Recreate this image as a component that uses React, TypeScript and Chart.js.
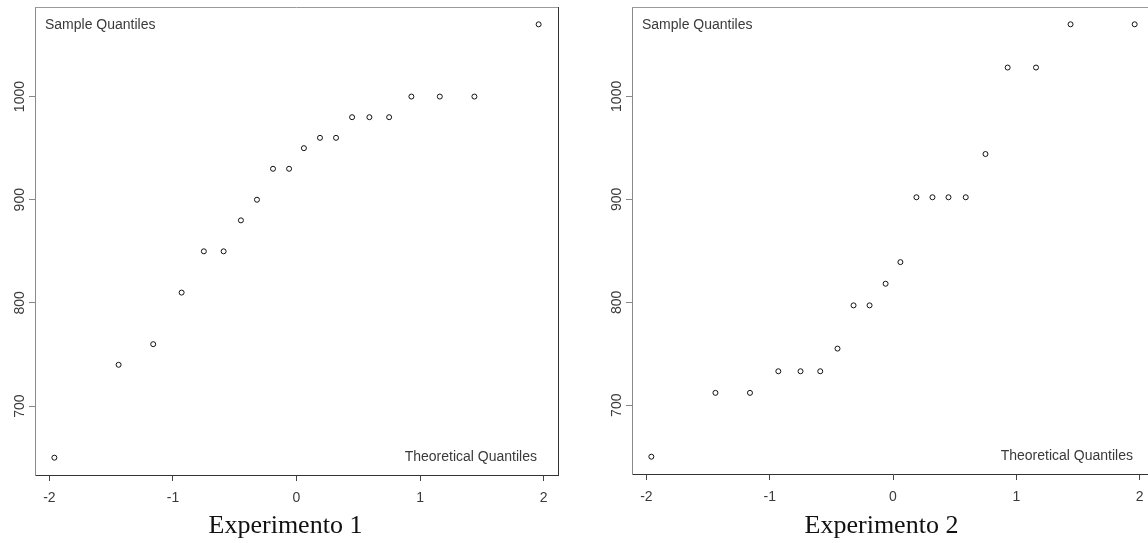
import React, { useEffect, useRef } from "react";
import { Chart, registerables } from "chart.js";

Chart.register(...registerables);

// Theoretical normal quantiles (x) shared by both panels
const THEORETICAL = [-1.96, -1.44, -1.16, -0.93, -0.75, -0.59, -0.45, -0.32, -0.19, -0.06,
  0.06, 0.19, 0.32, 0.45, 0.59, 0.75, 0.93, 1.16, 1.44, 1.96];
// Sample quantiles
const EXP1 = [650, 740, 760, 810, 850, 850, 880, 900, 930, 930,
  950, 960, 960, 980, 980, 980, 1000, 1000, 1000, 1070];
const EXP2 = [650, 712, 712, 733, 733, 733, 755, 797, 797, 818,
  839, 902, 902, 902, 902, 944, 1028, 1028, 1070, 1070];

const X_TICKS = [-2, -1, 0, 1, 2];
const Y_TICKS = [700, 800, 900, 1000];
const CAPTIONS = ["Experimento 1", "Experimento 2"];
const Y_LABEL = "Sample Quantiles";
const X_LABEL = "Theoretical Quantiles";

const X_MIN = -2.1168, X_MAX = 2.1168;
const Y_MIN = 633.2, Y_MAX = 1086.8;

const SANS = "'Liberation Sans', Arial, sans-serif";

const framePlugin = {
  id: "frameAndLabels",
  afterDraw(chart: any) {
    const { ctx, chartArea: a } = chart;
    ctx.save();
    ctx.lineWidth = 1;
    ctx.strokeStyle = "#9a9a9a";
    ctx.beginPath();
    ctx.moveTo(a.left, Math.round(a.top) + 0.5);
    ctx.lineTo(a.right, Math.round(a.top) + 0.5);
    ctx.stroke();
    ctx.strokeStyle = "#333";
    ctx.beginPath();
    ctx.moveTo(Math.round(a.right) + 0.5, a.top);
    ctx.lineTo(Math.round(a.right) + 0.5, a.bottom);
    ctx.stroke();
    ctx.fillStyle = "#3a3a3a";
    ctx.font = `14px ${SANS}`;
    ctx.textBaseline = "alphabetic";
    ctx.textAlign = "left";
    ctx.fillText(Y_LABEL, a.left + 10, a.top + 22);
    ctx.textAlign = "right";
    ctx.fillText(X_LABEL, a.right - 21, a.bottom - 14);
    ctx.restore();
  },
};

function makeConfig(values: number[], padLeft: number, padRight: number, padBottom: number): any {
  return {
    type: "scatter",
    data: {
      datasets: [
        {
          data: THEORETICAL.map((x, i) => ({ x, y: values[i] })),
          pointStyle: "circle",
          pointRadius: 2.5,
          borderWidth: 1,
          borderColor: "#111",
          backgroundColor: "rgba(0,0,0,0)",
        },
      ],
    },
    options: {
      animation: false,
      responsive: false,
      devicePixelRatio: 1,
      layout: { padding: { top: 7, left: padLeft, right: padRight, bottom: padBottom } },
      plugins: { legend: { display: false }, tooltip: { enabled: false }, title: { display: false } },
      scales: {
        x: {
          type: "linear",
          position: "bottom",
          min: X_MIN,
          max: X_MAX,
          afterBuildTicks: (s: any) => { s.ticks = X_TICKS.map((v) => ({ value: v })); },
          afterFit: (s: any) => { s.height = 40; },
          grid: { drawOnChartArea: false, drawTicks: true, tickLength: 6, color: "#444" },
          border: { display: true, color: "#333", width: 1 },
          ticks: {
            color: "#3a3a3a",
            font: { family: SANS, size: 14 },
            padding: 9,
            maxRotation: 0,
            minRotation: 0,
            callback: (v: any) => String(v),
          },
        },
        y: {
          type: "linear",
          position: "left",
          min: Y_MIN,
          max: Y_MAX,
          afterBuildTicks: (s: any) => { s.ticks = Y_TICKS.map((v) => ({ value: v })); },
          afterFit: (s: any) => { s.width = 35; },
          grid: { drawOnChartArea: false, drawTicks: true, tickLength: 6, color: "#888" },
          border: { display: true, color: "#8a8a8a", width: 1 },
          ticks: {
            color: "#3a3a3a",
            font: { family: SANS, size: 14 },
            minRotation: 90,
            maxRotation: 90,
            crossAlign: "center",
            padding: -7,
            callback: (v: any) => String(v),
          },
        },
      },
    },
    plugins: [framePlugin],
  };
}

function Panel(props: { values: number[]; left: number; width: number; padLeft: number; padRight: number; padBottom: number }) {
  const ref = useRef<HTMLCanvasElement | null>(null);
  useEffect(() => {
    if (!ref.current) return;
    const chart = new Chart(ref.current, makeConfig(props.values, props.padLeft, props.padRight, props.padBottom));
    return () => chart.destroy();
  }, []);
  return (
    <canvas
      ref={ref}
      width={props.width}
      height={543}
      style={{ position: "absolute", left: props.left, top: 0, width: props.width, height: 543 }}
    />
  );
}

export default function App() {
  const capStyle: React.CSSProperties = {
    position: "absolute",
    width: 220,
    textAlign: "center",
    fontFamily: "'Liberation Serif', 'Times New Roman', serif",
    fontSize: 26,
    lineHeight: "26px",
    color: "#111",
    top: 512,
    whiteSpace: "nowrap",
  };
  return (
    <div style={{ position: "fixed", left: 0, top: 0, width: 1148, height: 543, overflow: "hidden", background: "#fff" }}>
      <Panel values={EXP1} left={0} width={575} padLeft={0} padRight={17} padBottom={28} />
      <Panel values={EXP2} left={575} width={600} padLeft={22} padRight={21} padBottom={29} />
      <div style={{ ...capStyle, left: 285.5 - 110 }}>{CAPTIONS[0]}</div>
      <div style={{ ...capStyle, left: 881.5 - 110 }}>{CAPTIONS[1]}</div>
    </div>
  );
}
